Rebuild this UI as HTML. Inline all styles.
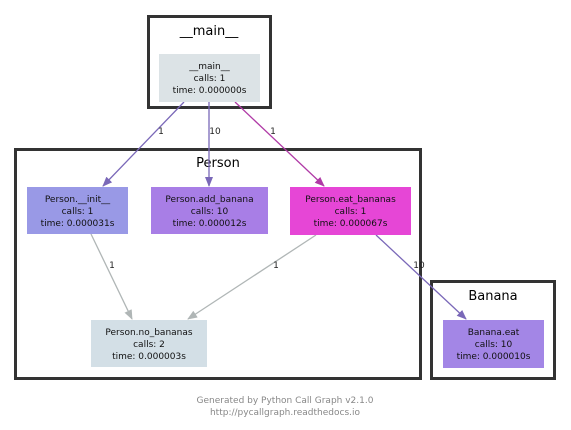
<!DOCTYPE html>
<html><head><style>body{margin:0;background:#fff}svg{display:block}</style></head><body>
<svg width="571" height="430" xmlns="http://www.w3.org/2000/svg" font-family="DejaVu Sans, Liberation Sans, sans-serif">
<defs>
<marker id="ap" markerWidth="10" markerHeight="8" refX="9" refY="4" orient="auto" markerUnits="userSpaceOnUse"><path d="M0,0 L10,4 L0,8z" fill="#7a68b8"/></marker>
<marker id="am" markerWidth="10" markerHeight="8" refX="9" refY="4" orient="auto" markerUnits="userSpaceOnUse"><path d="M0,0 L10,4 L0,8z" fill="#b03aa6"/></marker>
<marker id="ag" markerWidth="10" markerHeight="8" refX="9" refY="4" orient="auto" markerUnits="userSpaceOnUse"><path d="M0,0 L10,4 L0,8z" fill="#b0b6b6"/></marker>
</defs>
<g fill="none" stroke="#333" stroke-width="3">
<rect x="148.5" y="16.5" width="122" height="91"/>
<rect x="15.5" y="149.5" width="405" height="229"/>
<rect x="431.5" y="281.5" width="123" height="97"/>
</g>
<g fill="#000" font-size="13" text-anchor="middle">
<text x="209" y="35">__main__</text>
<text x="218" y="167">Person</text>
<text x="493" y="300">Banana</text>
</g>
<g stroke-width="1.3" fill="none">
<line x1="184" y1="102" x2="103" y2="186" stroke="#7a68b8" marker-end="url(#ap)"/>
<line x1="209" y1="102" x2="209" y2="186" stroke="#7a68b8" marker-end="url(#ap)"/>
<line x1="235" y1="102" x2="324" y2="186" stroke="#b03aa6" marker-end="url(#am)"/>
<line x1="91" y1="234" x2="132" y2="319" stroke="#b0b6b6" marker-end="url(#ag)"/>
<line x1="316" y1="235" x2="188" y2="319" stroke="#b0b6b6" marker-end="url(#ag)"/>
<line x1="376" y1="235" x2="466" y2="319" stroke="#7a68b8" marker-end="url(#ap)"/>
</g>
<g font-size="9" fill="#222" text-anchor="middle">
<text x="161" y="134">1</text>
<text x="215" y="134">10</text>
<text x="273" y="134">1</text>
<text x="112" y="268">1</text>
<text x="276" y="268">1</text>
<text x="419" y="268">10</text>
</g>
<rect x="159" y="54" width="101" height="48" fill="#dce3e6"/>
<rect x="27" y="187" width="101" height="47" fill="#9999e6"/>
<rect x="151" y="187" width="117" height="47" fill="#a87ee6"/>
<rect x="290" y="187" width="121" height="48" fill="#e646d6"/>
<rect x="91" y="320" width="116" height="47" fill="#d3dfe6"/>
<rect x="443" y="320" width="101" height="48" fill="#a386e6"/>
<g font-size="9" fill="#111" text-anchor="middle">
<text x="209.5" y="69">__main__</text><text x="209.5" y="81">calls: 1</text><text x="209.5" y="93">time: 0.000000s</text>
<text x="77.5" y="202">Person.__init__</text><text x="77.5" y="214">calls: 1</text><text x="77.5" y="226">time: 0.000031s</text>
<text x="209.5" y="202">Person.add_banana</text><text x="209.5" y="214">calls: 10</text><text x="209.5" y="226">time: 0.000012s</text>
<text x="350.5" y="202">Person.eat_bananas</text><text x="350.5" y="214">calls: 1</text><text x="350.5" y="226">time: 0.000067s</text>
<text x="149" y="335">Person.no_bananas</text><text x="149" y="347">calls: 2</text><text x="149" y="359">time: 0.000003s</text>
<text x="493.5" y="335">Banana.eat</text><text x="493.5" y="347">calls: 10</text><text x="493.5" y="359">time: 0.000010s</text>
</g>
<g font-size="9" fill="#888" text-anchor="middle">
<text x="285" y="403">Generated by Python Call Graph v2.1.0</text>
<text x="285" y="415">http://pycallgraph.readthedocs.io</text>
</g>
</svg>
</body></html>
